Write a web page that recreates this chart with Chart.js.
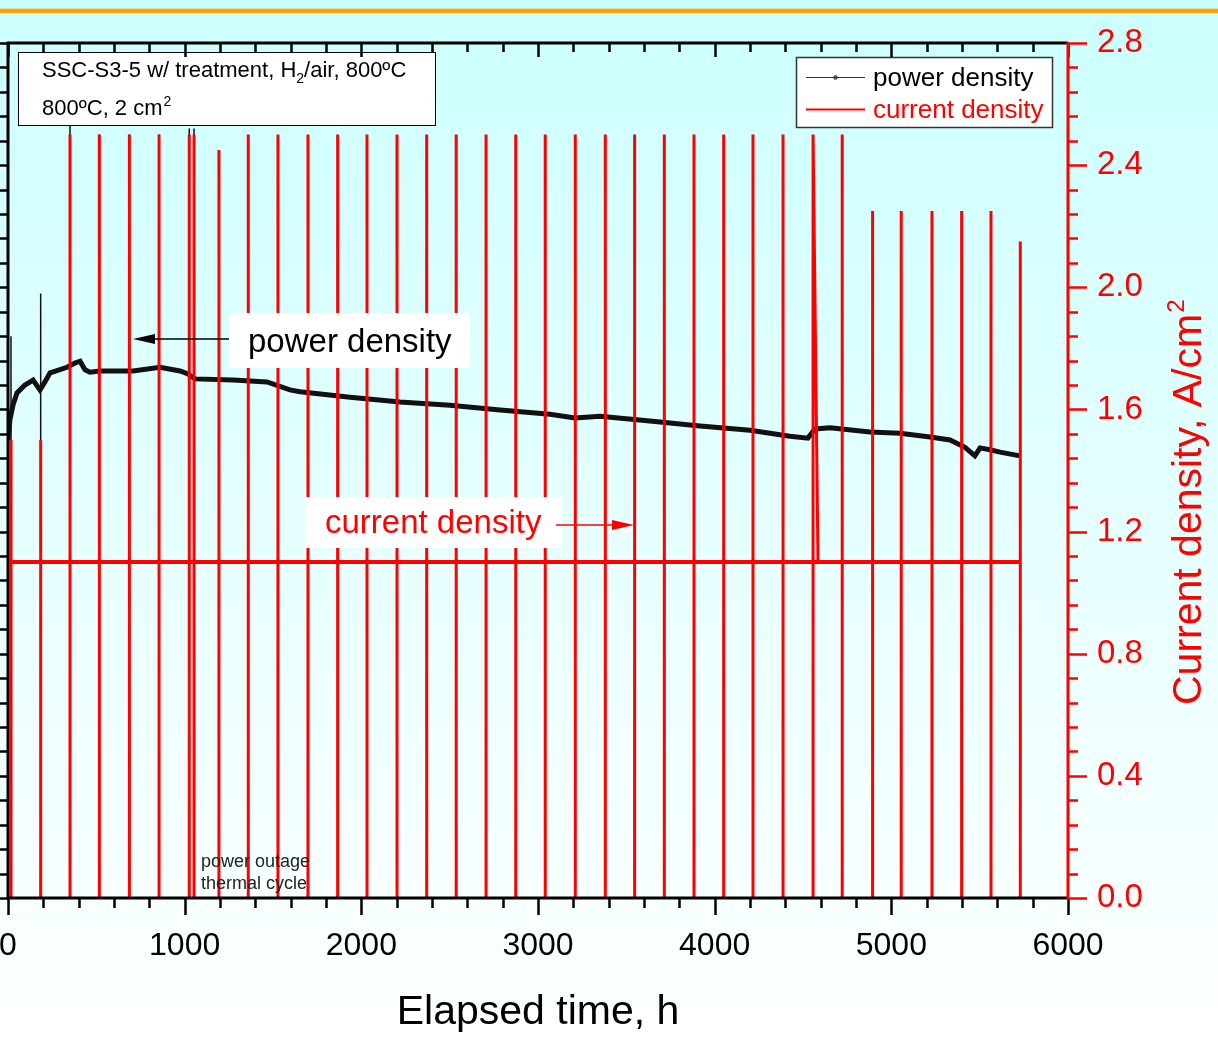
<!DOCTYPE html>
<html>
<head>
<meta charset="utf-8">
<script src="https://cdn.jsdelivr.net/npm/chart.js@4.4.0/dist/chart.umd.min.js"></script>
<style>
  html, body { margin: 0; padding: 0; }
  body { width: 1218px; height: 1044px; background: linear-gradient(to bottom, #ccffff 0%, #ffffff 100%); overflow: hidden; }
  canvas { display: block; }
</style>
</head>
<body>
<canvas id="chart" width="1218" height="1044"></canvas>
<script>
var FONT = "'Liberation Sans', Arial, sans-serif";

// power density between I-V sweeps (left axis, W/cm2), elapsed time in h
var powerTime = [0, 11, 28, 51, 96, 142, 181, 209, 238, 294, 334, 379, 408, 436, 464, 521, 708, 860, 974, 1019,
  1058, 1274, 1466, 1596, 1653, 1936, 2219, 2502, 2785, 3068, 3209, 3351, 3634, 3917, 4200, 4426, 4528, 4568, 4653, 4879,
  5049, 5219, 5332, 5417, 5473, 5502, 5558, 5615, 5728];
var powerValue = [0.750, 0.783, 0.807, 0.827, 0.840, 0.848, 0.832, 0.845, 0.860, 0.865, 0.869, 0.876, 0.879, 0.865, 0.861, 0.863, 0.863, 0.869, 0.863, 0.858,
  0.850, 0.848, 0.845, 0.832, 0.829, 0.820, 0.812, 0.807, 0.799, 0.792, 0.786, 0.789, 0.781, 0.773, 0.766, 0.756, 0.753, 0.768, 0.770, 0.763,
  0.761, 0.755, 0.750, 0.738, 0.724, 0.737, 0.734, 0.730, 0.724];

// constant current hold (right axis, A/cm2)
var currentTime = [10, 5730];
var currentValue = [1.10, 1.10];

// I-V sweeps
var sweepTime = [17, 185, 351, 517, 687, 855, 1026, 1053, 1194, 1360, 1528, 1698, 1866, 2032, 2202, 2370, 2537, 2706,
  2874, 3041, 3211, 3381, 3547, 3715, 3883, 4051, 4217, 4387, 4557, 4722, 4894, 5056, 5230, 5398, 5564, 5730];
var sweepBack = [17, 185, 351, 517, 687, 855, 1026, 1053, 1194, 1360, 1528, 1698, 1866, 2032, 2202, 2370, 2537, 2706,
  2874, 3041, 3211, 3381, 3547, 3715, 3883, 4051, 4217, 4387, 4585, 4722, 4894, 5056, 5230, 5398, 5564, 5730];
var sweepCurrent = [1.5, 1.5, 2.5, 2.5, 2.5, 2.5, 2.5, 2.5, 2.45, 2.5, 2.5, 2.5, 2.5, 2.5, 2.5, 2.5, 2.5, 2.5,
  2.5, 2.5, 2.5, 2.5, 2.5, 2.5, 2.5, 2.5, 2.5, 2.5, 2.5, 2.5, 2.25, 2.25, 2.25, 2.25, 2.25, 2.15];
var sweepPower = [0.92, 0.99, 1.27, 1.25, 1.25, 1.25, 1.26, 1.26, 1.20, 1.16, 1.12, 1.09, 1.08, 1.07, 1.04, 1.05, 1.02, 0.98,
  0.98, 0.97, 0.94, 0.92, 0.905, 0.90, 0.885, 0.87, 0.855, 0.84, 0.825, 0.83, 0.815, 0.805, 0.80, 0.785, 0.76, 0.735];

var timeTicks = [0, 1000, 2000, 3000, 4000, 5000, 6000];
var currentTicks = [0.0, 0.4, 0.8, 1.2, 1.6, 2.0, 2.4, 2.8];

var powerLine = powerTime.map(function (t, i) { return {x: t, y: powerValue[i]}; });
var currentLine = currentTime.map(function (t, i) { return {x: t, y: currentValue[i]}; });
var powerSpikes = [], currentSpikes = [];
sweepTime.forEach(function (t, i) {
  powerSpikes.push({x: t, y: 0}, {x: t, y: sweepPower[i]}, {x: t, y: null});
  currentSpikes.push({x: t, y: 0}, {x: t, y: sweepCurrent[i]}, {x: sweepBack[i], y: currentValue[0]}, {x: t, y: null});
});

function text(ctx, s, x, y, size, color, align) {
  ctx.font = size + 'px ' + FONT;
  ctx.fillStyle = color;
  ctx.textAlign = align || 'left';
  ctx.textBaseline = 'alphabetic';
  ctx.fillText(s, x, y);
  return ctx.measureText(s).width;
}

function arrow(ctx, x1, x2, y, color, head) {
  ctx.strokeStyle = color;
  ctx.fillStyle = color;
  ctx.lineWidth = 1.5;
  var dir = x2 > x1 ? 1 : -1;
  ctx.beginPath();
  ctx.moveTo(x1, y);
  ctx.lineTo(x2 - dir * head, y);
  ctx.stroke();
  ctx.beginPath();
  ctx.moveTo(x2, y);
  ctx.lineTo(x2 - dir * head, y - 5);
  ctx.lineTo(x2 - dir * head, y + 5);
  ctx.closePath();
  ctx.fill();
}

function noPad(s) {
  s.paddingLeft = 0; s.paddingRight = 0; s.paddingTop = 0; s.paddingBottom = 0;
}

var decor = {
  id: 'decor',
  beforeDraw: function (chart) {
    var ctx = chart.ctx;
    ctx.save();
    ctx.fillStyle = '#e6dcae';
    ctx.fillRect(0, 8, chart.width, 1);
    ctx.fillStyle = '#ffa200';
    ctx.fillRect(0, 9, chart.width, 4);
    ctx.restore();
  },
  afterDatasetsDraw: function (chart) {
    var ctx = chart.ctx, a = chart.chartArea;
    var sx = chart.scales.x, sp = chart.scales.yP, sc = chart.scales.yC;
    ctx.save();
    ctx.lineCap = 'butt';

    // annotation boxes
    ctx.fillStyle = '#ffffff';
    ctx.fillRect(229, 313, 241, 55);
    text(ctx, 'power density', 248, 352, 33, '#000');
    arrow(ctx, 229, 133, 339, '#000', 22);
    ctx.fillStyle = '#ffffff';
    ctx.fillRect(305, 497, 257, 51);
    text(ctx, 'current density', 325, 533, 33, '#ff0000');
    arrow(ctx, 556, 634, 525, '#ff0000', 22);
    text(ctx, 'power outage', 201, 867, 18, '#222');
    text(ctx, 'thermal cycle', 201, 889, 18, '#222');

    // info box
    ctx.fillStyle = '#ffffff';
    ctx.fillRect(18, 52, 417, 73);
    ctx.strokeStyle = '#000';
    ctx.lineWidth = 1;
    ctx.strokeRect(18.5, 52.5, 417, 73);
    var w = text(ctx, 'SSC-S3-5 w/ treatment, H', 42, 77, 22, '#000');
    w += text(ctx, '2', 42 + w, 83, 14, '#000');
    text(ctx, '/air, 800\u00baC', 42 + w, 77, 22, '#000');
    w = text(ctx, '800\u00baC, 2 cm', 42, 115, 22, '#000');
    text(ctx, '2', 43 + w, 106, 14, '#000');

    // legend
    ctx.fillStyle = '#ffffff';
    ctx.fillRect(796, 57, 256, 70);
    ctx.strokeStyle = '#333';
    ctx.lineWidth = 1.5;
    ctx.strokeRect(796.5, 57.5, 256, 70);
    ctx.lineWidth = 1.2;
    ctx.beginPath(); ctx.moveTo(806, 77.5); ctx.lineTo(865, 77.5); ctx.stroke();
    ctx.beginPath(); ctx.arc(835.5, 77.5, 1.6, 0, 2 * Math.PI); ctx.stroke();
    ctx.strokeStyle = '#ff0000';
    ctx.lineWidth = 2;
    ctx.beginPath(); ctx.moveTo(806, 109.5); ctx.lineTo(865, 109.5); ctx.stroke();
    text(ctx, 'power density', 873, 86, 26, '#000');
    text(ctx, 'current density', 873, 118, 26, '#ff0000');

    // tick marks
    var v, p, k;
    ctx.lineWidth = 2.5;
    ctx.strokeStyle = '#000';
    ctx.beginPath();
    for (v = 0; v <= 6000; v += 200) {
      p = Math.round(sx.getPixelForValue(v)) + 0.5;
      var major = v % 1000 === 0;
      ctx.moveTo(p, a.bottom); ctx.lineTo(p, a.bottom + (major ? 17 : 10));
      ctx.moveTo(p, a.top); ctx.lineTo(p, a.top + (major ? 14 : 9));
    }
    for (k = 0; k <= 35; k++) {
      p = Math.round(sp.getPixelForValue(k * 0.04)) + 0.5;
      ctx.moveTo(a.left, p); ctx.lineTo(a.left - 10, p);
    }
    ctx.stroke();
    ctx.strokeStyle = '#ff0000';
    ctx.beginPath();
    for (k = 0; k <= 35; k++) {
      p = Math.round(sc.getPixelForValue(k * 0.08)) + 0.5;
      ctx.moveTo(a.right, p); ctx.lineTo(a.right + (k % 5 === 0 ? 19 : 10), p);
    }
    ctx.stroke();

    // frame
    ctx.lineWidth = 3;
    ctx.strokeStyle = '#000';
    ctx.beginPath();
    ctx.moveTo(a.right, a.top); ctx.lineTo(a.left, a.top); ctx.lineTo(a.left, a.bottom); ctx.lineTo(a.right, a.bottom);
    ctx.stroke();
    ctx.strokeStyle = '#ff0000';
    ctx.beginPath();
    ctx.moveTo(a.right, a.top - 1); ctx.lineTo(a.right, a.bottom + 1);
    ctx.stroke();

    // axis titles
    text(ctx, 'Elapsed time, h', 538, 1024, 41, '#000', 'center');
    ctx.translate(1201, 705);
    ctx.rotate(-Math.PI / 2);
    w = text(ctx, 'Current density, A/cm', 0, 0, 41, '#ff0000');
    text(ctx, '2', w + 1, -17, 24, '#ff0000');
    ctx.restore();
  }
};

new Chart(document.getElementById("chart"), {
  type: 'scatter',
  data: {
    datasets: [{
      label: 'current density',
      data: currentSpikes,
      showLine: true,
      spanGaps: false,
      borderColor: '#ff0000',
      borderWidth: 3,
      pointRadius: 0,
      yAxisID: 'yC',
      order: 0
    }, {
      label: 'current density hold',
      data: currentLine,
      showLine: true,
      borderColor: '#ff0000',
      borderWidth: 4,
      pointRadius: 0,
      yAxisID: 'yC',
      order: 0
    }, {
      label: 'power density peaks',
      data: powerSpikes,
      showLine: true,
      spanGaps: false,
      borderColor: '#111111',
      borderWidth: 1.5,
      pointRadius: 0,
      yAxisID: 'yP',
      order: 1
    }, {
      label: 'power density',
      data: powerLine,
      showLine: true,
      borderColor: '#111111',
      borderWidth: 5,
      pointRadius: 0,
      yAxisID: 'yP',
      order: 1
    }]
  },
  options: {
    responsive: false,
    animation: false,
    devicePixelRatio: 1,
    layout: { padding: { top: 43, left: 0, right: 0, bottom: 0 }, autoPadding: false },
    plugins: { legend: { display: false }, tooltip: { enabled: false } },
    scales: {
      x: {
        type: 'linear',
        position: 'bottom',
        min: 0,
        max: 6000,
        afterBuildTicks: function (s) { s.ticks = timeTicks.map(function (v) { return {value: v}; }); },
        afterFit: function (s) { s.height = 146; noPad(s); },
        grid: { display: false },
        border: { display: false },
        ticks: {
          autoSkip: false,
          maxRotation: 0,
          padding: 21,
          color: '#000',
          font: { size: 32, family: FONT },
          callback: function (v) { return String(v); }
        }
      },
      yP: {
        type: 'linear',
        position: 'left',
        min: 0,
        max: 1.4,
        afterFit: function (s) { s.width = 8; noPad(s); },
        grid: { display: false },
        border: { display: false },
        ticks: { display: false }
      },
      yC: {
        type: 'linear',
        position: 'right',
        min: 0,
        max: 2.8,
        afterBuildTicks: function (s) { s.ticks = currentTicks.map(function (v) { return {value: v}; }); },
        afterFit: function (s) { s.width = 150; noPad(s); },
        grid: { display: false },
        border: { display: false },
        ticks: {
          padding: 21,
          color: '#ff0000',
          font: { size: 33, family: FONT },
          callback: function (v) { return v.toFixed(1); }
        }
      }
    }
  },
  plugins: [decor]
});
</script>
</body>
</html>
